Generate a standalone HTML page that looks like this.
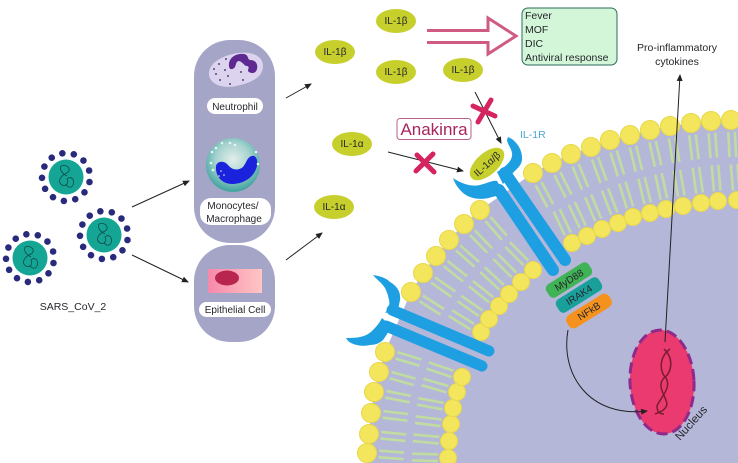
<!DOCTYPE html>
<html lang="en">
<head>
<meta charset="utf-8">
<title>IL-1 signalling diagram</title>
<style>
html,body{margin:0;padding:0;background:#fff;overflow:hidden}
svg{display:block}
text{font-family:"Liberation Sans","DejaVu Sans",sans-serif;fill:#26262c}
</style>
</head>
<body>
<svg id="diagram" xmlns="http://www.w3.org/2000/svg" width="738" height="463" viewBox="0 0 738 463">
<defs>
<marker id="ah" markerWidth="7" markerHeight="6" refX="6" refY="3" orient="auto" markerUnits="userSpaceOnUse"><path d="M0,0 L7,3 L0,6 Z" fill="#222"/></marker>
<radialGradient id="mono" cx="0.5" cy="0.4" r="0.58"><stop offset="0" stop-color="#e2eeea"/><stop offset="0.55" stop-color="#a5d2cf"/><stop offset="1" stop-color="#45a5a0"/></radialGradient>
<linearGradient id="epi" x1="0" x2="1" y1="0" y2="0"><stop offset="0" stop-color="#f788ab"/><stop offset="1" stop-color="#ffc6c4"/></linearGradient>
</defs>

<g id="cell">
<path id="cell-body" fill="#b5b7d9"/>
<g id="tails"></g>
<g id="heads"></g>
</g>

<g id="viruses"></g>
<text x="73" y="310" font-size="10.5" text-anchor="middle">SARS_CoV_2</text>

<rect x="194" y="40" width="81" height="203" rx="36" fill="#a5a5c8"/>
<rect x="194" y="245" width="81" height="97" rx="36" fill="#a5a5c8"/>

<g>
<path d="M209,72 C210,62 224,55 238,53 C252,51 263,56 263,66 C263,78 250,83 236,86 C222,89 208,84 209,72 Z" fill="#dcd3ef"/>
<path d="M229,66 C228,58 236,53 244,54 C249,55 247,59 250,60 C256,60 258,64 257,69 C256,74 250,74 248,71 C248,68 250,67 247,66 C244,66 243,62 239,61 C236,61 236,65 235,67 C233,70 229,70 229,66 Z" fill="#5e2a92"/>
<g fill="#2b1e55"><circle cx="219" cy="64" r="0.9"/><circle cx="214" cy="69" r="0.9"/><circle cx="216" cy="74" r="0.9"/><circle cx="225" cy="70" r="0.9"/><circle cx="228" cy="76" r="0.9"/><circle cx="220" cy="80" r="0.9"/><circle cx="230" cy="84" r="0.9"/><circle cx="241" cy="72" r="0.9"/><circle cx="243" cy="80" r="0.9"/><circle cx="226" cy="59" r="0.9"/></g>
</g>
<rect x="207" y="98" width="56" height="16" rx="8" fill="#fff"/>
<text x="235" y="110" font-size="10" text-anchor="middle">Neutrophil</text>

<g>
<circle cx="233" cy="165" r="27" fill="url(#mono)"/>
<path d="M216,166 C217,161 224,160 228,165 C232,170 238,171 243,167 C247,162 247,157 252,156 C256,155 258,160 257,166 C254,178 243,184 232,184 C222,184 215,176 216,166 Z" fill="#1a22dc"/>
<g fill="#e4f6f6"><circle cx="222" cy="143" r="1.3"/><circle cx="230" cy="143" r="1.3"/><circle cx="235" cy="145" r="1.3"/><circle cx="216" cy="148" r="1.3"/><circle cx="212" cy="152" r="1.3"/><circle cx="211" cy="163" r="1.3"/><circle cx="213" cy="170" r="1.3"/><circle cx="256" cy="152" r="1.3"/><circle cx="258" cy="164" r="1.3"/><circle cx="221" cy="171" r="0.8"/><circle cx="224" cy="175" r="0.8"/><circle cx="219" cy="176" r="0.8"/></g>
</g>
<rect x="200" y="198" width="71" height="27" rx="11" fill="#fff"/>
<text font-size="10" text-anchor="middle"><tspan x="233" y="209">Monocytes/</tspan><tspan x="234" y="222">Macrophage</tspan></text>

<g>
<rect x="208" y="269" width="54" height="24" fill="url(#epi)"/>
<ellipse cx="227" cy="278" rx="12" ry="7.5" fill="#b8264f"/>
</g>
<rect x="199" y="302" width="72" height="15" rx="7.5" fill="#fff"/>
<text x="235" y="313" font-size="10" text-anchor="middle">Epithelial Cell</text>

<g>
<ellipse transform="rotate(-3 662 382)" cx="662" cy="382" rx="32" ry="52" fill="#ea3a70" stroke="#8d2a8a" stroke-width="3" stroke-dasharray="11 5"/>
<g fill="none" stroke="#7a1c30" stroke-width="1.5">
<path d="M670,349 C658,358 660,372 666,378 C672,388 660,398 657,406 C657,412 660,414 664,414"/>
<path d="M664,349 C674,358 672,372 664,378 C656,386 666,396 667,404 C666,410 660,412 655,414"/>
</g>
<text transform="translate(680 441) rotate(-48)" font-size="11.5">Nucleus</text>
</g>

<g stroke="#222" stroke-width="1" fill="none">
<line x1="132" y1="207" x2="189" y2="181" marker-end="url(#ah)"/>
<line x1="132" y1="255" x2="188" y2="282" marker-end="url(#ah)"/>
<line x1="286" y1="98" x2="311" y2="84" marker-end="url(#ah)"/>
<line x1="286" y1="260" x2="322" y2="233" marker-end="url(#ah)"/>
<line x1="388" y1="152" x2="463" y2="171" marker-end="url(#ah)"/>
<line x1="475" y1="92" x2="501" y2="143" marker-end="url(#ah)"/>
<path d="M568,330 C560,375 590,418 647,411" marker-end="url(#ah)"/>
<line x1="665" y1="342" x2="680" y2="75" marker-end="url(#ah)"/>
</g>

<g fill="#c6cf2c">
<ellipse cx="396" cy="21" rx="20" ry="12"/>
<ellipse cx="396" cy="72" rx="20" ry="12"/>
<ellipse cx="463" cy="70" rx="20" ry="12"/>
<ellipse cx="335" cy="52" rx="20" ry="12"/>
<ellipse cx="352" cy="144" rx="20" ry="12"/>
<ellipse cx="334" cy="207" rx="20" ry="12"/>
</g>
<g font-size="10" text-anchor="middle">
<text x="396" y="24">IL-1β</text>
<text x="396" y="75">IL-1β</text>
<text x="463" y="73">IL-1β</text>
<text x="335" y="55">IL-1β</text>
<text x="352" y="147">IL-1α</text>
<text x="334" y="210">IL-1α</text>
</g>

<path d="M427,30.5 H488 V18 L516,36 L488,54 V42.5 H427" fill="none" stroke="#cf5b85" stroke-width="3"/>
<rect x="522" y="8" width="95" height="57" rx="6" fill="#d3f6d8" stroke="#2b6b5c" stroke-width="1"/>
<text font-size="10.5"><tspan x="525" y="19">Fever</tspan><tspan x="525" y="33">MOF</tspan><tspan x="525" y="47">DIC</tspan><tspan x="525" y="61">Antiviral response</tspan></text>

<text font-size="10.5" text-anchor="middle"><tspan x="677" y="51">Pro-inflammatory</tspan><tspan x="677" y="65">cytokines</tspan></text>

<rect x="397" y="118.5" width="74" height="21" rx="3" fill="#fff" stroke="#b5608c" stroke-width="1"/>
<text x="434" y="135" font-size="17" text-anchor="middle" style="fill:#a8245f">Anakinra</text>

<g stroke="#d5245f" stroke-width="5" stroke-linecap="round">
<path d="M473,106 L495,116 M491,100 L478,122" fill="none"/>
<path d="M417,155 L434,172 M433,154 L416,171" fill="none"/>
</g>

<g fill="#1d9fe2">
<line x1="499" y1="190" x2="553" y2="270" stroke="#1d9fe2" stroke-width="12" stroke-linecap="round"/>
<line x1="505" y1="173" x2="565" y2="260" stroke="#1d9fe2" stroke-width="12" stroke-linecap="round"/>
<path d="M453,178 C462,184 472,187 480,185 C488,183 493,180 497,181 L505,194 L492,197 C484,200 470,200 462,192 C458,188 455,184 453,178 Z"/>
<path d="M508,137 C516,140 523,150 522,160 C521,167 515,170 511,175 L503,184 L497,172 C503,168 511,163 512,156 C513,150 508,146 507,140 Z"/>
</g>
<text x="520" y="138" font-size="10.5" style="fill:#4aa8d8">IL-1R</text>

<g transform="translate(487 164) rotate(-42)">
<ellipse rx="21" ry="11" fill="#c6cf2c"/>
<text x="0" y="3.5" font-size="10" text-anchor="middle">IL-1α/β</text>
</g>

<g fill="#1d9fe2">
<line x1="392" y1="310" x2="489" y2="351" stroke="#1d9fe2" stroke-width="11" stroke-linecap="round"/>
<line x1="386" y1="326" x2="482" y2="366" stroke="#1d9fe2" stroke-width="11" stroke-linecap="round"/>
<path d="M373,275 C380,276 386,278 390,282 C397,286 401,292 400,300 L398,310 L385,313 C389,308 390,304 389,300 C388,295 387,292 385,288 C382,283 377,280 373,275 Z"/>
<path d="M346,338 C350,338 355,338 360,337 C366,336 370,333 373,330 C377,326 380,322 382,318 L392,327 C388,332 386,336 383,340 C379,344 374,345 370,345 C365,346 361,346 357,345 C352,344 348,342 346,338 Z"/>
</g>

<g>
<g transform="translate(569 280) rotate(-32)"><rect x="-25" y="-7.5" width="50" height="15" rx="5" fill="#3fb355"/><text x="0" y="3.5" font-size="10" text-anchor="middle">MyD88</text></g>
<g transform="translate(579 295) rotate(-32)"><rect x="-25" y="-7.5" width="50" height="15" rx="5" fill="#1aa09a"/><text x="0" y="3.5" font-size="10" text-anchor="middle">IRAK4</text></g>
<g transform="translate(589 311) rotate(-32)"><rect x="-25" y="-7.5" width="50" height="15" rx="6" fill="#f5921e"/><text x="0" y="3.5" font-size="10" text-anchor="middle">NFkB</text></g>
</g>

<script>
var svgNS = 'http://www.w3.org/2000/svg';
var outerSegments = [
  [[366,473],[367,453],[369,434],[371,413],[374,392],[379,372],[385,352]],
  [[411,292],[423,273],[436,256],[449,240],[464,224],[480,210]],
  [[533,173],[552,163],[571,154],[591,147],[610,140],[630,135],[650,130],[670,126],[691,123],[711,121],[731,120],[751,119]]
];
var innerSegments = [
  [[448,476],[448,458],[449,441],[451,424],[453,408],[457,392],[462,377]],
  [[481,332],[489,319],[499,306],[509,294],[521,282],[533,270]],
  [[572,243],[587,236],[602,229],[618,223],[633,217],[650,213],[666,209],[683,206],[701,203],[718,201],[737,200],[756,198]]
];

var bodyPts = [];
outerSegments.forEach(function (s) { bodyPts = bodyPts.concat(s); });
document.getElementById('cell-body').setAttribute('d',
  'M' + bodyPts.map(function (p) { return p.join(','); }).join(' L') + ' L760,480 L366,480 Z');

function addTail(x, y, nx, ny, off, from, to) {
  var l = document.createElementNS(svgNS, 'line');
  
  
  var ox = -ny * off, oy = nx * off;
  l.setAttribute('x1', x + nx * from + ox); l.setAttribute('y1', y + ny * from + oy);
  l.setAttribute('x2', x + nx * to + ox); l.setAttribute('y2', y + ny * to + oy);
  l.setAttribute('stroke', '#c0dca0');
  l.setAttribute('stroke-width', '2.6');
  document.getElementById('tails').appendChild(l);
}
function addHead(x, y, r) {
  var c = document.createElementNS(svgNS, 'circle');
  
  
  c.setAttribute('cx', x); c.setAttribute('cy', y); c.setAttribute('r', r);
  c.setAttribute('fill', '#f3e55c');
  c.setAttribute('stroke', '#e8d84a');
  document.getElementById('heads').appendChild(c);
}
function drawSegment(seg, sign, r, from, to) {
  seg.forEach(function (p, i) {
    var a = seg[Math.max(i - 1, 0)], b = seg[Math.min(i + 1, seg.length - 1)];
    var tx = b[0] - a[0], ty = b[1] - a[1], len = Math.sqrt(tx * tx + ty * ty);
    var nx = -ty / len * sign, ny = tx / len * sign;
    addTail(p[0], p[1], nx, ny, 3.3, from, to);
    addTail(p[0], p[1], nx, ny, -3.3, from, to);
    addHead(p[0], p[1], r);
  });
}
outerSegments.forEach(function (s) { drawSegment(s, 1, 9.5, 12, 37); });
innerSegments.forEach(function (s) { drawSegment(s, -1, 8.5, 10, 36); });

var virusCentres = [[66,177],[104,235],[30,258]];
var vg = document.getElementById('viruses');
virusCentres.forEach(function (v) {
  var g = document.createElementNS(svgNS, 'g');
  
  
  g.setAttribute('transform', 'translate(' + v[0] + ' ' + v[1] + ')');
  for (var i = 0; i < 13; i++) {
    var a = (i * 360 / 13 + 12) * Math.PI / 180;
    var s = document.createElementNS(svgNS, 'circle');
    
    
    s.setAttribute('cx', 24 * Math.cos(a));
    s.setAttribute('cy', 24 * Math.sin(a));
    s.setAttribute('r', 3.3);
    s.setAttribute('fill', '#2a2a7c');
    g.appendChild(s);
  }
  var b = document.createElementNS(svgNS, 'circle');
  
  
  b.setAttribute('r', 17.5);
  b.setAttribute('fill', '#14a594');
  g.appendChild(b);
  var r = document.createElementNS(svgNS, 'path');
  
  
  r.setAttribute('d', 'M-5,-11 C2,-13 6,-7 1,-4 C-6,-1 -9,5 -4,8 C0,10 3,6 1,2 C5,-2 9,3 7,8 C5,12 1,10 0,7 M-5,-11 C-7,-7 -3,-3 1,-1');
  r.setAttribute('fill', 'none');
  r.setAttribute('stroke', '#0f4a4a');
  r.setAttribute('stroke-width', '0.8');
  g.appendChild(r);
  vg.appendChild(g);
});
</script>
</svg>
</body>
</html>
